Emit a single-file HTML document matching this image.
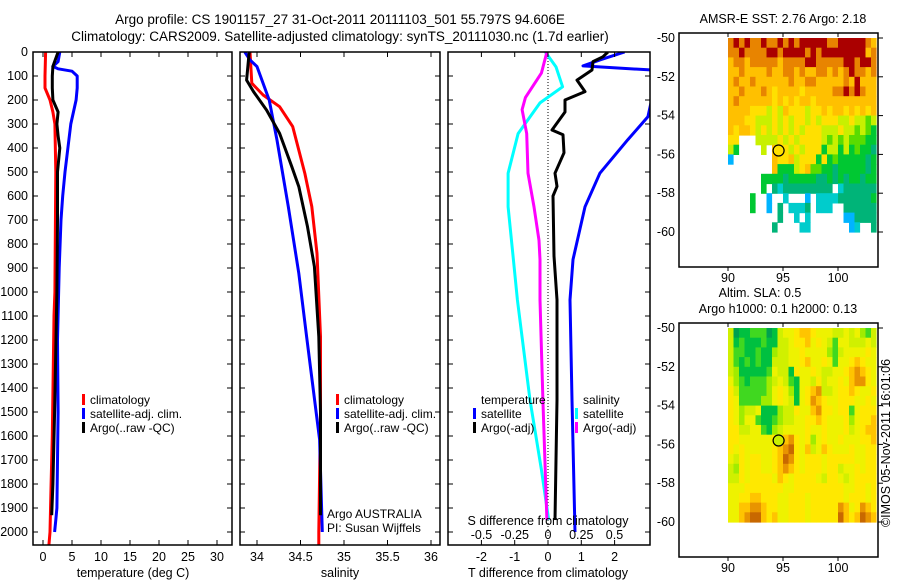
<!DOCTYPE html>
<html><head><meta charset="utf-8"><style>
body{margin:0;background:#fff;}
svg{display:block;font-family:"Liberation Sans",sans-serif;}
text{fill:#000;}
</style></head><body>
<svg id="c" width="900" height="580" viewBox="0 0 900 580" xmlns="http://www.w3.org/2000/svg">
<text x="340" y="24" font-size="13.5" text-anchor="middle">Argo profile: CS 1901157_27 31-Oct-2011 20111103_501 55.797S 94.606E</text>
<text x="340" y="41" font-size="13.5" text-anchor="middle">Climatology: CARS2009. Satellite-adjusted climatology: synTS_20111030.nc (1.7d earlier)</text>
<g id="g"></g>
</svg>
<script>
// ---------- profile data ----------
const tClimDepth=[0,100,150,200,250,300,500,1000,1100,1600,1800,2000,2060];
const tClimVal=[0.45,0.35,0.35,1.2,1.7,2.05,2.2,2.05,1.9,1.6,1.4,1.2,1.0];
const tArgoDepth=[0,60,100,150,200,250,300,350,400,500,700,1000,1500,1800,1930];
const tArgoVal=[2.6,1.7,1.6,1.6,1.7,2.6,2.4,2.6,2.9,2.5,2.5,2.4,2.0,1.7,1.5];
const tSatDepth=[0,40,60,70,80,100,150,200,300,400,500,600,700,900,1200,1500,1900,1950,2000];
const tSatVal=[2.9,2.6,1.7,2.6,5.0,5.9,5.9,5.7,4.8,4.3,3.8,3.4,3.1,2.8,2.5,2.6,2.4,2.2,2.0];

const sClimDepth=[0,130,179,228,311,505,644,839,1186,1500,2000,2060];
const sClimVal=[33.92,33.94,34.07,34.26,34.41,34.55,34.63,34.69,34.73,34.73,34.71,34.71];
const sArgoDepth=[0,117,165,242,339,478,561,728,894,1186,1500,1930];
const sArgoVal=[33.91,33.88,33.96,34.11,34.26,34.40,34.48,34.58,34.66,34.71,34.73,34.73];
const sSatDepth=[0,33,61,200,367,644,922,1186,1615,2000];
const sSatVal=[33.86,33.92,34.0,34.14,34.23,34.36,34.48,34.57,34.72,34.75];

const dTArgoDepth=[0,20,40,75,117,165,200,250,325,345,420,505,560,600,850,1033,1450,1950];
const dTArgoVal=[1.8,1.65,1.35,1.32,0.87,1.11,0.51,0.51,0.12,0.45,0.48,0.21,0.27,0.15,0.18,0.27,0.27,0.21];
const dTSatDepth=[0,33,58,75,80,270,365,505,645,865,1033,1450,2000];
const dTSatVal=[2.3,1.56,1.05,3.1,3.3,3.0,2.4,1.56,1.11,0.75,0.66,0.72,0.81];
const dSArgoDepth=[0,88,190,240,340,505,645,785,865,1033,1450,1950];
const dSArgoVal=[-0.008,-0.05,-0.17,-0.195,-0.16,-0.15,-0.105,-0.068,-0.06,-0.06,-0.038,-0.008];
const dSSatDepth=[0,62,145,212,340,505,645,865,1033,1450,1740,1950];
const dSSatVal=[-0.02,0.06,0.11,-0.06,-0.225,-0.30,-0.30,-0.26,-0.23,-0.135,-0.05,0.005];

const depthTicks=[0,100,200,300,400,500,600,700,800,900,1000,1100,1200,1300,1400,1500,1600,1700,1800,1900,2000];
const tTicks=[0,5,10,15,20,25,30];
const sTicks=[34,34.5,35,35.5,36];
const sTickLabels=["34","34.5","35","35.5","36"];
const dTTicks=[-2,-1,0,1,2];
const dSTicks=[-0.5,-0.25,0,0.25,0.5];

// ---------- map data ----------
const sstRows=[
"898988988989899999889999987","889888899899998989999999978","788788888788889988888998998",
"778777787788787788787898878","787787777778778877777879777","778777876777767777788989877",
"787777776767677677777777777","777766656576665667677676767","777665556565665656665565545",
"767765656565656665556554543","66...5555656566665454544433","53....5.7665656663553534332",
"0.......7667566636343333323","........7333567443323333323","......333323333322323233233",
"......3.21222222222.1222222","....3..0..1...0.11112222223","....3..0.2.1112.111..222222",
".........2..1.1......002222","........2....11.......01..2"];
const slaRows=[
"401122201455677655544545324","412111211445667565425544454","422112113445565555324555565",
"421212114445567556525567655","431111125441655654455678765","532122234542155464556578865",
"642222235653156784456676556","652222335654156876556665565","653445111344655786656625666",
"653552112344556676555635667","664455213455556556555645677","665555556578656356556555667",
"656555556789657457655565566","546566556798656665666665566","436566556787656665664556566",
"446566665765666654665456666","555666666655666666666556656","556677666556665666666566656",
"557788766556665666668756876","557899767556665666669767987"];
const latTicks=[-50,-52,-54,-56,-58,-60];
const lonTicks=[90,95,100];
const argoLon=94.6, argoLat=-55.8;
const sstPal=['#00b4ff','#00cccc','#00b478','#00c832','#5adc00','#c8f000','#ffe000','#ffc000','#e88400','#aa0000'];
const slaPal=['#00a050','#00c040','#40d820','#a0ec00','#d0f000','#eef200','#ffe800','#ffc400','#e89400','#c86800'];

const NS='http://www.w3.org/2000/svg';
const G=document.getElementById('g');
function mk(tag,attrs,parent){const e=document.createElementNS(NS,tag);for(const k in attrs)e.setAttribute(k,attrs[k]);(parent||G).appendChild(e);return e;}
function txt(x,y,s,size,anchor,parent){const t=mk('text',{x:x,y:y,'font-size':size,'text-anchor':anchor||'middle'},parent);t.textContent=s;return t;}

const TOP=52,BOT=545;
const yD=d=>TOP+0.24*d;
const xT=v=>43+5.8*v;
const xS=v=>257+87*(v-34);
const xdT=v=>548+33.3*v;
const xdS=v=>548+133*v;

function panel(name,x0,x1,clipId){
  const g=mk('g',{});
  
  
  const cp=mk('clipPath',{id:clipId},g);
  mk('rect',{x:x0,y:TOP,width:x1-x0,height:BOT-TOP},cp);
  return g;
}
function frame(g,x0,x1){
  const r=mk('rect',{x:x0,y:TOP,width:x1-x0,height:BOT-TOP,fill:'none',stroke:'#000','stroke-width':1.5},g);
  
  
  depthTicks.forEach(d=>{mk('line',{x1:x0,x2:x0+5,y1:yD(d),y2:yD(d),stroke:'#000'},g);mk('line',{x1:x1,x2:x1-5,y1:yD(d),y2:yD(d),stroke:'#000'},g);});
}
function line(g,ds,vs,fx,color,clip,name){
  const pts=ds.map((d,i)=>fx(vs[i]).toFixed(1)+','+yD(d).toFixed(1)).join(' ');
  const p=mk('polyline',{points:pts,fill:'none',stroke:color,'stroke-width':3,'clip-path':'url(#'+clip+')','stroke-linejoin':'round'},g);
  
  
}
function xticks(g,ticks,fx,labels,ly,top){
  ticks.forEach((t,i)=>{const x=fx(t);mk('line',{x1:x,x2:x,y1:BOT,y2:BOT-5,stroke:'#000'},g);if(top)mk('line',{x1:x,x2:x,y1:TOP,y2:TOP+5,stroke:'#000'},g);
    txt(x,ly,labels?labels[i]:String(t),12.5,'middle',g);});
}
function legend(g,x,y,items){
  items.forEach((it,i)=>{const yy=y+i*14;
    if(it[1])mk('rect',{x:x-8,y:yy-10,width:3,height:11,fill:it[1]},g);
    const t=txt(x,yy,it[0],12,'start',g);
    
    });
}

// Panel 1 temperature
let g1=panel('temperature-panel',33,232,'c1');
depthTicks.forEach(d=>{txt(28,yD(d)+4,String(d),12.5,'end',g1);});
line(g1,tClimDepth,tClimVal,xT,'#ff0000','c1','temp-climatology-line');
line(g1,tSatDepth,tSatVal,xT,'#0000ff','c1','temp-satellite-line');
line(g1,tArgoDepth,tArgoVal,xT,'#000000','c1','temp-argo-line');
frame(g1,33,232);
xticks(g1,tTicks,xT,null,561,true);
txt(133,577,'temperature (deg C)',12.5,'middle',g1);
legend(g1,90,404,[['climatology','#ff0000'],['satellite-adj. clim.','#0000ff'],['Argo(..raw -QC)','#000']]);

// Panel 2 salinity
let g2=panel('salinity-panel',240,440,'c2');
line(g2,sClimDepth,sClimVal,xS,'#ff0000','c2','sal-climatology-line');
line(g2,sSatDepth,sSatVal,xS,'#0000ff','c2','sal-satellite-line');
line(g2,sArgoDepth,sArgoVal,xS,'#000000','c2','sal-argo-line');
frame(g2,240,440);
xticks(g2,sTicks,xS,sTickLabels,561,true);
txt(340,577,'salinity',12.5,'middle',g2);
legend(g2,344,404,[['climatology','#ff0000'],['satellite-adj. clim.','#0000ff'],['Argo(..raw -QC)','#000']]);
txt(327,518,'Argo AUSTRALIA',12,'start',g2);
txt(327,532,'PI: Susan Wijffels',12,'start',g2);

// Panel 3 differences
let g3=panel('difference-panel',448,650,'c3');
mk('line',{x1:548,x2:548,y1:TOP,y2:BOT,stroke:'#000','stroke-dasharray':'1,2'},g3);
line(g3,dSSatDepth,dSSatVal,xdS,'#00ffff','c3','s-diff-satellite-line');
line(g3,dSArgoDepth,dSArgoVal,xdS,'#ff00ff','c3','s-diff-argo-line');
line(g3,dTSatDepth,dTSatVal,xdT,'#0000ff','c3','t-diff-satellite-line');
line(g3,dTArgoDepth,dTArgoVal,xdT,'#000000','c3','t-diff-argo-line');
frame(g3,448,650);
xticks(g3,dTTicks,xdT,null,561,true);
dSTicks.forEach(t=>txt(xdS(t),539,String(t),12.5,'middle',g3));
txt(548,525,'S difference from climatology',12.5,'middle',g3);
txt(548,577,'T difference from climatology',12.5,'middle',g3);
legend(g3,481,404,[['temperature',null],['satellite','#0000ff'],['Argo(-adj)','#000']]);
legend(g3,583,404,[['salinity',null],['satellite','#00ffff'],['Argo(-adj)','#ff00ff']]);

// Maps
function map(name,fy0,fy1,lat50,lat60,rows,pal,title,markerFill){
  const g=mk('g',{});
  
  
  const lx=lon=>728+11*(lon-90);
  const ly=lat=>lat50+(lat60-lat50)*(-50-lat)/10;
  rows.forEach((row,r)=>{for(let c=0;c<row.length;c++){const ch=row[c];if(ch==='.')continue;
    const lon=90+0.5*c,lat=-50-0.5*r;
    const cell=mk('rect',{x:lx(lon).toFixed(1),y:ly(lat).toFixed(1),width:5.6,height:(ly(lat-0.5)-ly(lat)+0.6).toFixed(1),fill:pal[+ch]},g);
    
    }});
  mk('rect',{x:679,y:fy0,width:199,height:fy1-fy0,fill:'none',stroke:'#000','stroke-width':1.5},g);
  latTicks.forEach(l=>{const y=ly(l);mk('line',{x1:878,x2:883,y1:y,y2:y,stroke:'#000'},g);txt(675,y+4,String(l),12.5,'end',g);});
  lonTicks.forEach(l=>{const x=lx(l);mk('line',{x1:x,x2:x,y1:fy1,y2:fy1+4,stroke:'#000'},g);mk('line',{x1:x,x2:x,y1:fy0,y2:fy0+4,stroke:'#000'},g);txt(x,fy1+15,String(l),12.5,'middle',g);});
  const m=mk('circle',{cx:lx(argoLon),cy:ly(argoLat),r:5.5,fill:markerFill,stroke:'#000','stroke-width':1.2},g);
  
  
  const n=title.length;
  title.forEach((t,i)=>txt(t[1],fy0-10-(n-1-i)*16,t[0],12.5,'middle',g));
}
map('sst-map',33,267,38,232,sstRows,sstPal,[['AMSR-E SST: 2.76 Argo: 2.18',783]],'#ffe000');
map('sla-map',323,557,328,522,slaRows,slaPal,[['Altim. SLA: 0.5',760],['Argo h1000: 0.1  h2000: 0.13',778]],'#c8f000');
const cr=txt(0,0,'©IMOS 05-Nov-2011 16:01:06',12.5,'middle');
cr.setAttribute('transform','translate(890,443) rotate(-90)');


</script>
</body></html>
